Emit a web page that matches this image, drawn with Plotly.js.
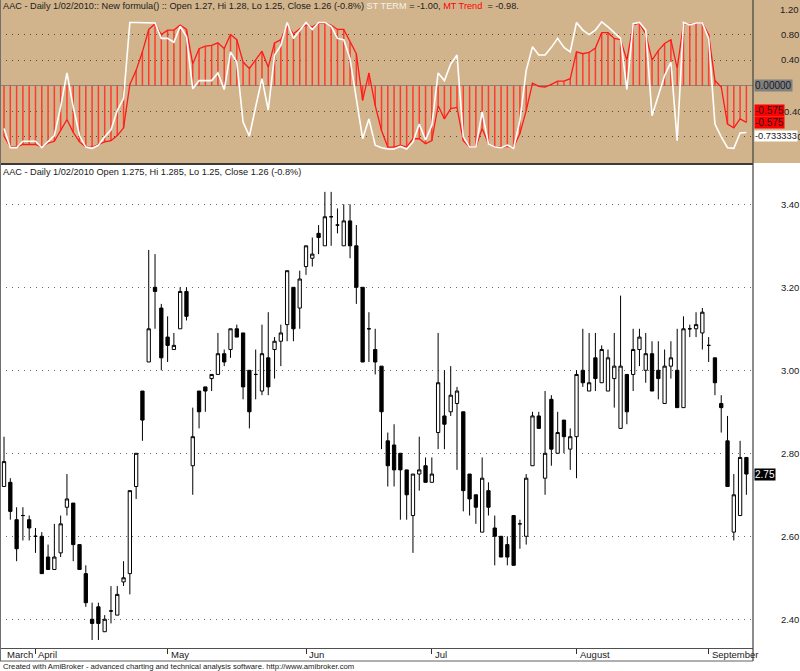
<!DOCTYPE html>
<html>
<head>
<meta charset="utf-8">
<script src="https://cdn.plot.ly/plotly-3.0.1.min.js"></script>
<style>
html,body{margin:0;padding:0;background:#ffffff;}
#chart{width:800px;height:671px;}
</style>
</head>
<body>
<div id="chart"></div>
<script>
// ---- month axis ----
const monthNames = ['March','April','May','Jun','Jul','August','September'];
const monthIdx   = [0, 5, 26, 48, 68, 91, 112];

// ---- daily OHLC (bar index 0..118) ----
const openP = [2.72,2.73,2.64,2.65,2.64,2.60,2.60,2.55,2.52,2.56,
  2.67,2.68,2.58,2.51,2.40,2.43,2.37,2.42,2.41,2.49,
  2.51,2.72,2.95,3.02,3.20,3.15,3.08,3.05,3.10,3.19,
  2.77,2.95,2.96,2.98,2.99,3.04,3.05,3.10,3.09,3.00,
  2.99,2.95,3.03,3.05,3.07,3.11,3.20,3.15,3.25,3.27,
  3.33,3.30,3.37,3.35,3.30,3.36,3.30,3.20,3.10,3.05,
  3.01,2.83,2.82,2.80,2.76,2.65,2.75,2.77,2.73,2.85,
  2.89,2.90,2.92,2.90,2.75,2.70,2.61,2.71,2.62,2.60,
  2.58,2.65,2.63,2.60,2.77,2.89,2.74,2.93,2.80,2.88,
  2.81,2.84,3.00,2.95,3.03,2.97,2.95,2.98,2.86,2.99,
  2.99,3.05,3.00,3.04,3.00,2.92,3.01,3.00,2.91,3.10,
  3.10,3.09,3.06,3.03,2.92,2.83,2.61,2.65,2.79];
const highP = [2.84,2.74,2.67,2.67,2.65,2.62,2.61,2.58,2.63,2.65,
  2.75,2.68,2.58,2.53,2.44,2.44,2.41,2.48,2.48,2.54,
  2.71,2.80,2.95,3.29,3.28,3.16,3.13,3.09,3.20,3.20,
  2.91,2.95,2.96,2.99,3.09,3.05,3.10,3.11,3.09,3.00,
  3.05,3.11,3.14,3.08,3.11,3.24,3.20,3.24,3.30,3.32,
  3.35,3.43,3.43,3.39,3.40,3.40,3.35,3.20,3.14,3.10,
  3.01,2.85,2.87,2.80,2.76,2.75,2.84,2.79,2.79,3.09,
  3.00,3.01,2.96,2.90,2.75,2.70,2.79,2.73,2.65,2.60,
  2.60,2.65,2.64,2.75,2.90,2.90,2.95,2.94,2.90,2.88,
  2.86,3.00,3.10,3.09,3.09,3.06,3.05,3.09,3.18,2.99,
  3.10,3.10,3.09,3.07,3.07,3.05,3.07,3.10,3.13,3.11,
  3.14,3.15,3.08,3.03,2.94,2.89,2.75,2.83,2.79];
const lowP = [2.72,2.64,2.54,2.59,2.59,2.56,2.51,2.52,2.52,2.55,
  2.65,2.54,2.52,2.43,2.35,2.35,2.37,2.39,2.41,2.48,
  2.46,2.69,2.83,3.02,3.10,3.00,3.02,3.05,3.10,3.12,
  2.70,2.86,2.90,2.95,2.99,3.01,3.03,3.08,2.93,2.86,
  2.93,2.94,2.94,2.98,3.01,3.07,3.07,3.10,3.23,3.25,
  3.28,3.30,3.30,3.33,3.30,3.27,3.16,3.02,3.02,2.99,
  2.81,2.72,2.72,2.64,2.64,2.56,2.71,2.73,2.73,2.81,
  2.81,2.89,2.76,2.66,2.65,2.63,2.61,2.65,2.53,2.55,
  2.53,2.53,2.57,2.58,2.77,2.86,2.70,2.77,2.80,2.80,
  2.76,2.74,2.96,2.95,2.95,2.97,2.95,2.91,2.86,2.87,
  2.95,3.01,2.97,2.95,2.93,2.92,2.98,2.91,2.91,3.08,
  3.08,3.05,3.02,2.94,2.85,2.72,2.59,2.65,2.70];
const closeP = [2.78,2.66,2.57,2.65,2.62,2.60,2.51,2.52,2.55,2.63,
  2.69,2.58,2.52,2.44,2.39,2.39,2.40,2.42,2.46,2.50,
  2.71,2.80,2.88,3.10,3.19,3.03,3.06,3.06,3.19,3.13,
  2.84,2.90,2.95,2.99,3.04,3.02,3.10,3.08,2.96,2.90,
  2.99,3.04,2.96,3.07,3.09,3.24,3.10,3.22,3.30,3.28,
  3.32,3.37,3.37,3.35,3.36,3.30,3.20,3.02,3.10,3.02,
  2.90,2.77,2.76,2.76,2.70,2.75,2.76,2.73,2.75,2.97,
  2.87,2.94,2.95,2.71,2.69,2.67,2.74,2.67,2.60,2.55,
  2.55,2.53,2.63,2.74,2.89,2.86,2.80,2.81,2.85,2.84,
  2.84,2.99,2.97,2.97,2.98,3.05,3.03,3.01,3.01,2.90,
  3.05,3.08,3.04,2.95,2.98,3.01,3.03,2.91,3.10,3.10,
  3.11,3.14,3.06,2.97,2.91,2.72,2.70,2.79,2.75];

// ---- indicator panel ----
const mtTrend = [-0.79,-0.96,-0.96,-0.92,-0.92,-0.92,-0.96,-0.90,-0.87,-0.70,
  -0.53,-0.73,-0.88,-0.96,-0.96,-0.92,-0.88,-0.86,-0.78,-0.66,
  0.02,0.24,0.53,0.88,0.97,0.80,0.87,0.87,0.95,0.88,
  0.34,0.58,0.62,0.63,0.67,0.58,0.80,0.72,0.37,0.27,
  0.40,0.54,0.29,0.67,0.72,0.95,0.81,0.89,0.95,0.92,
  0.98,0.98,0.95,0.88,0.88,0.68,0.50,-0.23,0.20,-0.31,
  -0.70,-0.96,-0.96,-0.93,-0.96,-0.83,-0.83,-0.91,-0.86,-0.31,
  -0.52,-0.36,-0.34,-0.86,-0.96,-0.96,-0.67,-0.91,-0.96,-0.96,
  -0.95,-0.96,-0.75,-0.39,0.04,-0.01,-0.02,0.02,0.07,0.07,
  0.11,0.53,0.50,0.52,0.59,0.83,0.83,0.74,0.72,0.40,
  0.95,0.98,0.81,0.40,0.55,0.66,0.72,0.27,0.97,0.96,
  0.98,0.98,0.80,0.08,-0.02,-0.60,-0.66,-0.52,-0.575];
const stTerm = [-0.67,-0.97,-0.97,-0.87,-0.87,-0.87,-0.97,-0.88,-0.78,-0.33,
  0.20,-0.33,-0.78,-0.96,-0.98,-0.93,-0.80,-0.69,-0.39,-0.20,
  0.99,0.99,0.99,0.99,0.98,0.74,0.74,0.68,0.93,0.77,
  -0.05,0.08,0.08,0.08,0.20,-0.06,0.53,0.37,-0.57,-0.79,
  -0.33,0.11,-0.38,0.48,0.63,0.99,0.74,0.86,0.99,0.88,
  0.99,0.99,0.93,0.74,0.72,0.42,-0.23,-0.83,-0.52,-0.93,
  -0.97,-0.99,-0.99,-0.95,-0.99,-0.88,-0.60,-0.85,-0.62,0.20,
  0.08,0.34,0.48,-0.80,-0.96,-0.96,-0.41,-0.91,-0.96,-0.97,
  -0.93,-0.98,-0.54,0.24,0.61,0.48,0.48,0.60,0.74,0.60,
  0.53,0.99,0.87,0.80,0.87,1.00,0.92,0.83,0.74,-0.06,
  0.97,0.99,0.87,-0.47,-0.15,0.16,0.37,-0.86,0.99,0.95,
  0.98,0.98,0.74,-0.60,-0.80,-0.97,-0.98,-0.74,-0.733];

const priceTicks = [2.40, 2.60, 2.80, 3.00, 3.20, 3.40];
const indTicks = [0.80, 0.40, -0.40, -0.80];

const lastClose = 2.75;
const lastMT = -0.575;
const lastST = -0.733333;

const headerTop = 'AAC - Daily 1/02/2010:: New formula() :: Open 1.27, Hi 1.28, Lo 1.25, Close 1.26 (-0.8%) ';
const headerMain = 'AAC - Daily 1/02/2010 Open 1.275, Hi 1.285, Lo 1.25, Close 1.26 (-0.8%)';
const footer = 'Created with AmiBroker - advanced charting and technical analysis software. http://www.amibroker.com';

// ---- build ----
const W = 800, H = 671;
const py = s => 1 - s / H;   // screen y -> paper y
const px = s => s / W;       // screen x -> paper x
const axR = px(753);

const idx = openP.map((_, i) => i);
const xr = [-0.64, 119.05];

const histX = [], histY = [];
mtTrend.forEach((v, i) => { histX.push(i, i, null); histY.push(0, v, null); });

const FONT = 'Liberation Sans, Arial, sans-serif';
const tan = '#D2B48C';

const traces = [
  {
    type: 'candlestick', x: idx, open: openP, high: highP, low: lowP, close: closeP,
    xaxis: 'x', yaxis: 'y', whiskerwidth: 0,
    increasing: {line: {color: '#000000', width: 1}, fillcolor: '#ffffff'},
    decreasing: {line: {color: '#000000', width: 1}, fillcolor: '#000000'},
    hoverinfo: 'skip', showlegend: false
  },
  {
    type: 'scatter', mode: 'lines', x: histX, y: histY, xaxis: 'x2', yaxis: 'y2',
    line: {color: '#ff3a2e', width: 1.5}, connectgaps: false, hoverinfo: 'skip', showlegend: false
  },
  {
    type: 'scatter', mode: 'lines', x: idx, y: mtTrend, xaxis: 'x2', yaxis: 'y2',
    line: {color: '#ff1a1a', width: 1.3}, hoverinfo: 'skip', showlegend: false
  },
  {
    type: 'scatter', mode: 'lines', x: idx, y: stTerm, xaxis: 'x2', yaxis: 'y2',
    line: {color: '#ffffff', width: 1.6}, hoverinfo: 'skip', showlegend: false
  }
];

const annotations = [];
annotations.push({
  xref: 'paper', yref: 'paper', x: 0, y: py(6), xanchor: 'left', yanchor: 'middle', xshift: 1,
  showarrow: false, font: {family: FONT, size: 9.2, color: '#202020'},
  text: headerTop + '<span style="color:#f4f0e8">ST TERM</span> = -1.00, <span style="color:#ff0000">MT Trend</span>  = -0.98.'
});
annotations.push({
  xref: 'paper', yref: 'paper', x: 0, y: py(172), xanchor: 'left', yanchor: 'middle', xshift: 1,
  showarrow: false, font: {family: FONT, size: 9.2, color: '#202020'}, text: headerMain
});
annotations.push({
  xref: 'paper', yref: 'paper', x: 0, y: py(666), xanchor: 'left', yanchor: 'middle', xshift: 1,
  showarrow: false, font: {family: FONT, size: 7.7, color: '#202020'}, text: footer
});
monthNames.forEach((m, k) => {
  annotations.push({
    xref: 'x', yref: 'paper', x: monthIdx[k], y: py(654.5), xanchor: 'left', yanchor: 'middle',
    xshift: 1, showarrow: false, font: {family: FONT, size: 9.5, color: '#202020'},
    text: m
  });
});
annotations.push({
  xref: 'paper', yref: 'y2', x: axR, y: 1.2, xanchor: 'left', yanchor: 'middle', xshift: 25,
  showarrow: false, font: {family: FONT, size: 9.5, color: '#202020'}, text: '1.20'
});
annotations.push({
  xref: 'paper', yref: 'y2', x: axR, y: 0, xanchor: 'left', yanchor: 'middle', xshift: 1,
  showarrow: false, bgcolor: '#808080', borderpad: 0,
  font: {family: FONT, size: 10, color: '#1a1a1a'}, text: '0.00000'
});
annotations.push({
  xref: 'paper', yref: 'y2', x: axR, y: lastMT, xanchor: 'left', yanchor: 'middle', xshift: 1, yshift: 12,
  showarrow: false, bgcolor: '#ff0000', borderpad: 0,
  font: {family: FONT, size: 10, color: '#1a1a1a'}, text: String(lastMT)
});
annotations.push({
  xref: 'paper', yref: 'y2', x: axR, y: lastMT, xanchor: 'left', yanchor: 'middle', xshift: 1, yshift: 0,
  showarrow: false, bgcolor: '#ff0000', borderpad: 0,
  font: {family: FONT, size: 10, color: '#1a1a1a'}, text: String(lastMT)
});
annotations.push({
  xref: 'paper', yref: 'y2', x: axR, y: lastST, xanchor: 'left', yanchor: 'middle', xshift: 1, yshift: -3.5,
  showarrow: false, bgcolor: '#ffffff', borderpad: 0,
  font: {family: FONT, size: 9.3, color: '#1a1a1a'}, text: String(lastST)
});
annotations.push({
  xref: 'paper', yref: 'y', x: axR, y: lastClose, xanchor: 'left', yanchor: 'middle', xshift: 1,
  showarrow: false, bgcolor: '#000000', borderpad: 0,
  font: {family: FONT, size: 10, color: '#ffffff'}, text: lastClose.toFixed(2)
});

const shapes = [
  {type: 'rect', xref: 'paper', yref: 'paper', x0: 0, x1: 1, y0: py(163), y1: 1,
   fillcolor: tan, line: {width: 0}, layer: 'below'},
  {type: 'line', xref: 'paper', yref: 'paper', x0: 0, x1: axR, y0: py(164), y1: py(164),
   line: {color: '#3a3a3a', width: 2}},
  {type: 'line', xref: 'paper', yref: 'paper', x0: axR, x1: axR, y0: py(661), y1: 1,
   line: {color: '#404040', width: 1.2}},
  {type: 'line', xref: 'paper', yref: 'paper', x0: px(0.5), x1: px(0.5), y0: py(661), y1: 1,
   line: {color: '#707070', width: 1}},
  {type: 'line', xref: 'paper', yref: 'paper', x0: 0, x1: axR, y0: py(661), y1: py(661),
   line: {color: '#606060', width: 1}}
];

const layout = {
  width: W, height: H,
  margin: {l: 0, r: 0, t: 0, b: 0, pad: 0},
  paper_bgcolor: '#ffffff', plot_bgcolor: 'rgba(0,0,0,0)',
  font: {family: FONT, size: 9.5, color: '#202020'},
  showlegend: false,
  xaxis: {
    domain: [0, axR], anchor: 'y', range: xr, type: 'linear',
    showgrid: false, zeroline: false, showline: true, linecolor: '#505050', linewidth: 1,
    ticks: 'outside', ticklen: 5, tickcolor: '#303030', tickwidth: 1,
    tickmode: 'array', tickvals: monthIdx.slice(1), showticklabels: false,
    rangeslider: {visible: false}, fixedrange: true
  },
  yaxis: {
    domain: [py(648), py(165)], anchor: 'x', side: 'right', range: [2.3308, 3.4947],
    tickmode: 'array', tickvals: priceTicks, ticktext: priceTicks.map(v => v.toFixed(2)),
    ticks: 'outside', ticklen: 25, tickcolor: 'rgba(0,0,0,0)',
    showgrid: true, gridcolor: '#6a6a6a', griddash: '1px,5px', gridwidth: 1,
    zeroline: false, showline: false, tickfont: {family: FONT, size: 9.5, color: '#202020'},
    fixedrange: true
  },
  xaxis2: {
    domain: [0, axR], anchor: 'y2', range: xr, type: 'linear',
    showgrid: false, zeroline: false, showline: false, ticks: '', showticklabels: false,
    fixedrange: true
  },
  yaxis2: {
    domain: [py(162), 1], anchor: 'x2', side: 'right', range: [-1.194, 1.341],
    tickmode: 'array', tickvals: indTicks, ticktext: indTicks.map(v => v.toFixed(2)),
    ticks: 'outside', ticklen: 25, tickcolor: 'rgba(0,0,0,0)',
    showgrid: true, gridcolor: '#5c4a36', griddash: '1px,5px', gridwidth: 1,
    zeroline: true, zerolinecolor: '#8a8278', zerolinewidth: 1,
    showline: false, tickfont: {family: FONT, size: 9.5, color: '#202020'},
    fixedrange: true
  },
  boxgap: 0.25,
  annotations: annotations,
  shapes: shapes
};

Plotly.newPlot('chart', traces, layout, {displayModeBar: false, staticPlot: true});
</script>
</body>
</html>
